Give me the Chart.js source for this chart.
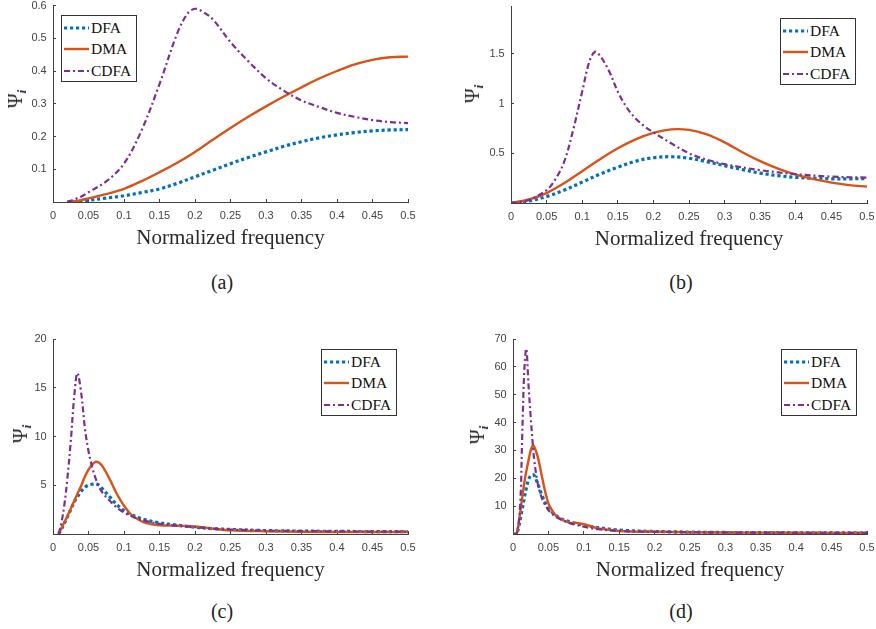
<!DOCTYPE html>
<html><head><meta charset="utf-8">
<script src="https://cdn.jsdelivr.net/npm/chart.js@4.4.1/dist/chart.umd.min.js"></script>
<style>
html,body{margin:0;padding:0;background:#fff;overflow:hidden;}
#root{position:relative;width:876px;height:629px;background:#fff;}
#root canvas{position:absolute;}
.legend{position:absolute;width:76px;height:67px;border:1px solid #333;background:#fff;box-sizing:border-box;}
.legend .row{position:absolute;left:0;width:74px;height:20px;}
.legend svg{position:absolute;left:2px;top:7px;}
.legend span{position:absolute;left:29px;top:0;line-height:20px;font-family:'Liberation Serif',serif;font-size:15.5px;color:#111;white-space:nowrap;}
.ytitle{position:absolute;transform:translate(-50%,-50%) rotate(-90deg);white-space:nowrap;font-family:'Liberation Serif',serif;color:#222;line-height:1;}
.ytitle .psi{font-size:20px;}
.ytitle .sub{font-size:13px;font-style:italic;font-weight:bold;position:relative;top:4px;color:#1a1a33;}
.cap{position:absolute;transform:translate(-50%,-50%);font-family:'Liberation Serif',serif;font-size:20px;color:#222;white-space:nowrap;}
</style></head><body><div id="root"></div>
<script>
const seriesNames = ['DFA', 'DMA', 'CDFA'];
const xTickStep = 0.05;

// Panel (a)
const freqA     = [0.02, 0.03, 0.04, 0.05, 0.075, 0.1, 0.125, 0.15, 0.175, 0.2, 0.225, 0.25, 0.275, 0.3, 0.325, 0.35, 0.375, 0.4, 0.425, 0.45, 0.475, 0.5];
const dfaA      = [0, 0, 0.002, 0.005, 0.012, 0.019, 0.029, 0.04, 0.057, 0.077, 0.097, 0.117, 0.136, 0.153, 0.17, 0.184, 0.196, 0.205, 0.212, 0.217, 0.22, 0.221];
const dmaA      = [0, 0.002, 0.006, 0.011, 0.024, 0.04, 0.064, 0.091, 0.12, 0.153, 0.19, 0.226, 0.26, 0.292, 0.322, 0.35, 0.377, 0.4, 0.42, 0.434, 0.442, 0.444];
const freqAcdfa = [0.02, 0.03, 0.04, 0.05, 0.075, 0.1, 0.125, 0.15, 0.175, 0.19, 0.2, 0.21, 0.225, 0.25, 0.275, 0.3, 0.325, 0.35, 0.375, 0.4, 0.425, 0.45, 0.475, 0.5];
const cdfaA     = [0, 0.008, 0.017, 0.03, 0.063, 0.117, 0.22, 0.36, 0.515, 0.577, 0.59, 0.582, 0.558, 0.488, 0.43, 0.378, 0.34, 0.31, 0.29, 0.272, 0.26, 0.25, 0.244, 0.241];

// Panel (b)
const freqB     = [0, 0.025, 0.05, 0.075, 0.1, 0.125, 0.15, 0.175, 0.2, 0.225, 0.25, 0.275, 0.3, 0.325, 0.35, 0.375, 0.4, 0.425, 0.45, 0.475, 0.5];
const dfaB      = [0, 0.02, 0.065, 0.13, 0.21, 0.29, 0.36, 0.42, 0.455, 0.465, 0.45, 0.415, 0.375, 0.335, 0.3, 0.275, 0.258, 0.248, 0.243, 0.243, 0.245];
const dmaB      = [0, 0.035, 0.1, 0.2, 0.32, 0.44, 0.55, 0.64, 0.705, 0.74, 0.735, 0.69, 0.61, 0.51, 0.42, 0.345, 0.285, 0.24, 0.205, 0.18, 0.165];
const freqBcdfa = [0, 0.025, 0.05, 0.0625, 0.075, 0.0875, 0.1, 0.11, 0.118, 0.125, 0.1375, 0.15, 0.1625, 0.175, 0.1875, 0.2, 0.225, 0.25, 0.275, 0.3, 0.35, 0.4, 0.45, 0.5];
const cdfaB     = [0, 0.03, 0.13, 0.24, 0.42, 0.74, 1.12, 1.42, 1.52, 1.48, 1.33, 1.12, 0.96, 0.85, 0.77, 0.71, 0.6, 0.5, 0.435, 0.39, 0.33, 0.29, 0.265, 0.255];

// Panel (c)
const freqC = [0.008, 0.012, 0.016, 0.02, 0.025, 0.03, 0.0343, 0.04, 0.045, 0.05, 0.055, 0.06, 0.065, 0.07, 0.08, 0.09, 0.1, 0.11, 0.12, 0.13, 0.15, 0.175, 0.2, 0.225, 0.25, 0.3, 0.35, 0.4, 0.45, 0.5];
const dfaC  = [0, 0.5, 1.1, 1.7, 2.5, 3.3, 3.8, 4.4, 4.8, 5.0, 5.1, 5.15, 5.0, 4.6, 3.8, 3.0, 2.4, 2.0, 1.7, 1.45, 1.15, 0.9, 0.7, 0.55, 0.47, 0.35, 0.3, 0.27, 0.25, 0.24];
const dmaC  = [0, 0.6, 1.2, 1.8, 2.6, 3.4, 4.1, 5.0, 5.9, 6.6, 7.1, 7.4, 7.3, 6.9, 5.6, 4.1, 2.9, 2.0, 1.5, 1.15, 0.9, 0.85, 0.78, 0.55, 0.38, 0.28, 0.23, 0.2, 0.2, 0.2];
const cdfaC = [0, 1.2, 3.0, 5.5, 9.5, 14.2, 16.5, 14.3, 10.8, 8.5, 6.9, 5.7, 4.8, 4.2, 3.4, 2.7, 2.2, 1.85, 1.55, 1.35, 1.05, 0.85, 0.7, 0.55, 0.45, 0.35, 0.3, 0.27, 0.25, 0.24];

// Panel (d)
const freqD = [0, 0.005, 0.01, 0.013, 0.016, 0.0188, 0.022, 0.025, 0.028, 0.03, 0.035, 0.04, 0.045, 0.05, 0.055, 0.06, 0.07, 0.08, 0.09, 0.1, 0.11, 0.12, 0.15, 0.2, 0.3, 0.4, 0.5];
const dfaD  = [0, 0, 5, 9, 13, 16.5, 19.5, 21, 21.3, 21, 18, 14.5, 11.5, 9.2, 7.9, 6.8, 5.2, 4.4, 3.7, 3.2, 2.7, 2.3, 1.4, 0.9, 0.55, 0.45, 0.4];
const dmaD  = [0, 0, 7.4, 13, 18.5, 22.5, 26.5, 30, 31.7, 31.3, 27.7, 21.7, 15.7, 11, 8.6, 6.8, 5.0, 4.0, 4.0, 3.5, 2.8, 2.0, 1.1, 0.8, 0.55, 0.45, 0.4];
const cdfaD = [0, 0, 9.8, 35, 59, 66.5, 53, 42, 32, 26.5, 18, 13.4, 10.6, 8.6, 7.3, 6.2, 5.0, 3.9, 3.2, 2.6, 2.1, 1.7, 1.1, 0.8, 0.55, 0.45, 0.4];

const yMaxes = [0.6, 1.98, 20, 70];
const ySteps = [0.1, 0.5, 5, 10];
const captions = ['(a)', '(b)', '(c)', '(d)'];

const colors = ['#0072BD', '#D95319', '#7E2F8E'];
const widths = [3.2, 2.4, 2.2];
const dashes = [[3.2, 2.8], [], [6, 3, 2, 3]];
const orders = [3, 2, 1];

// layout of the four panels (chart-area box in page pixels)
const layouts = [
  {L: 53, T: 5.5, R: 408, B: 202, legend: [61, 15], yt: [15, 99], cap: [222, 282]},
  {L: 511, T: 6, R: 867, B: 203, legend: [780, 18], yt: [472, 94], cap: [681, 282]},
  {L: 53, T: 339, R: 408, B: 534, legend: [321, 349], yt: [20, 434], cap: [222, 611]},
  {L: 513, T: 339, R: 867, B: 534, legend: [781, 349], yt: [477, 435], cap: [681, 611]}
];

const panelData = [
  [[freqA, dfaA], [freqA, dmaA], [freqAcdfa, cdfaA]],
  [[freqB, dfaB], [freqB, dmaB], [freqBcdfa, cdfaB]],
  [[freqC, dfaC], [freqC, dmaC], [freqC, cdfaC]],
  [[freqD, dfaD], [freqD, dmaD], [freqD, cdfaD]]
];

const root = document.getElementById('root');
const fmt = v => String(+(+v).toFixed(3));
const Y_W = 53, X_H = 58, PAD_R = 8;

function legendSvg(i) {
  const dash = dashes[i].length ? `stroke-dasharray="${dashes[i].join(' ')}"` : '';
  return `<svg width="25" height="6"><line x1="0" y1="3" x2="25" y2="3" stroke="${colors[i]}" stroke-width="${widths[i]}" ${dash}/></svg>`;
}

layouts.forEach((lay, p) => {
  const cTop = Math.max(0, Math.floor(lay.T - 6));
  const padTop = lay.T - cTop;
  const cLeft = lay.L - Y_W;
  const cw = (lay.R - lay.L) + Y_W + PAD_R;
  const ch = Math.round(padTop + (lay.B - lay.T) + X_H);
  const cv = document.createElement('canvas');
  cv.width = cw; cv.height = ch;
  cv.style.left = cLeft + 'px'; cv.style.top = cTop + 'px';
  cv.style.width = cw + 'px'; cv.style.height = ch + 'px';
  root.appendChild(cv);

  const datasets = panelData[p].map(([xs, vals], i) => ({
    label: seriesNames[i],
    data: xs.map((x, k) => ({x: x, y: vals[k]})),
    borderColor: colors[i],
    backgroundColor: colors[i],
    borderWidth: widths[i],
    borderDash: dashes[i],
    order: orders[i],
    fill: false,
    pointRadius: 0,
    tension: 0.35
  }));

  new Chart(cv, {
    type: 'line',
    data: {datasets},
    options: {
      responsive: false, animation: false, devicePixelRatio: 1,
      layout: {padding: {left: 0, top: padTop, right: PAD_R, bottom: 0}},
      plugins: {legend: {display: false}, tooltip: {enabled: false}},
      scales: {
        x: {
          type: 'linear', min: 0, max: 0.5,
          ticks: {stepSize: xTickStep, autoSkip: false, maxRotation: 0, padding: 10.4,
                  font: {family: 'Liberation Sans', size: 11}, color: '#444', callback: v => fmt(v)},
          grid: {drawOnChartArea: false, drawTicks: true, tickLength: -3, color: '#404040', lineWidth: 1},
          border: {display: true, color: '#404040', width: 1},
          title: {display: true, text: 'Normalized frequency', color: '#2a2a2a',
                  font: {family: 'Liberation Serif', size: 21}, padding: {top: 0, bottom: 9.4}},
          afterFit: s => { s.height = X_H; s.paddingLeft = 0; s.paddingRight = 0; }
        },
        y: {
          type: 'linear', min: 0, max: yMaxes[p],
          ticks: {stepSize: ySteps[p], includeBounds: false, padding: 9.3,
                  font: {family: 'Liberation Sans', size: 11}, color: '#444',
                  callback: v => (Math.abs(v) < 1e-9 ? '' : fmt(v))},
          grid: {drawOnChartArea: false, drawTicks: true, tickLength: -3, color: '#404040', lineWidth: 1},
          border: {display: true, color: '#404040', width: 1},
          afterFit: s => { s.width = Y_W; s.paddingTop = 0; s.paddingBottom = 0; }
        }
      }
    }
  });

  // legend
  const lg = document.createElement('div');
  lg.className = 'legend';
  lg.style.left = lay.legend[0] + 'px'; lg.style.top = lay.legend[1] + 'px';
  const centers = [11.5, 33.3, 55];
  lg.innerHTML = seriesNames.map((n, i) =>
    `<div class="row" style="top:${centers[i] - 10}px">${legendSvg(i)}<span>${n}</span></div>`).join('');
  root.appendChild(lg);

  // y title
  const yt = document.createElement('div');
  yt.className = 'ytitle';
  yt.style.left = lay.yt[0] + 'px'; yt.style.top = lay.yt[1] + 'px';
  yt.innerHTML = '<span class="psi">Ψ</span><span class="sub">i</span>';
  root.appendChild(yt);

  // caption
  const cp = document.createElement('div');
  cp.className = 'cap';
  cp.style.left = lay.cap[0] + 'px'; cp.style.top = lay.cap[1] + 'px';
  cp.textContent = captions[p];
  root.appendChild(cp);
});
</script>
</body></html>
